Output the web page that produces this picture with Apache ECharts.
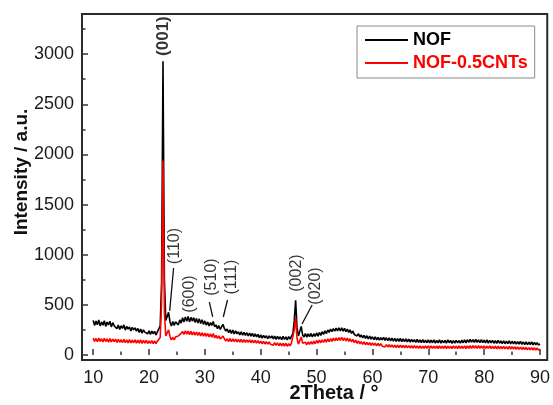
<!DOCTYPE html>
<html>
<head>
<meta charset="utf-8">
<script src="https://cdn.jsdelivr.net/npm/echarts@6/dist/echarts.min.js"></script>
<style>
  html, body { margin: 0; padding: 0; background: #fff; }
  #chart { width: 553px; height: 405px; }
</style>
</head>
<body>
<div id="chart"></div>
<script>
// XRD scan: 2θ from 10° to 90°, step 0.25°
const scanStart = 10;
const scanStep = 0.25;

// NOF intensity (a.u.), one row per 4° of 2θ
const intensityNOF = [
  345, 295, 338, 302, 350, 290, 330, 296, 342, 285, 328, 300, 336, 280, 322, 292,
  305, 262, 298, 255, 290, 265, 300, 248, 285, 258, 280, 240, 276, 250, 270, 238,
  265, 225, 258, 218, 250, 228, 245, 210, 242, 205, 238, 212, 235, 200, 230, 218,
  290, 720, 2930, 760, 345, 330, 425, 330, 290, 335, 295, 330, 345, 300, 350, 318,
  372, 330, 380, 335, 385, 330, 375, 338, 372, 325, 365, 320, 360, 315, 352, 305,
  340, 298, 330, 290, 322, 295, 335, 280, 300, 262, 292, 255, 282, 305, 262, 238,
  260, 222, 252, 215, 248, 210, 240, 212, 232, 200, 230, 198, 225, 195, 222, 190,
  218, 188, 215, 182, 210, 180, 205, 172, 200, 168, 196, 170, 192, 162, 190, 168,
  190, 160, 188, 155, 185, 158, 182, 152, 186, 156, 180, 150, 184, 158, 185, 212,
  340, 545, 270, 190, 180, 285, 200, 180, 215, 178, 210, 182, 215, 180, 212, 185,
  220, 188, 225, 195, 232, 205, 240, 212, 250, 225, 258, 232, 262, 238, 268, 240,
  272, 240, 270, 238, 265, 232, 258, 225, 250, 215, 238, 205, 222, 190, 212, 180,
  200, 170, 195, 165, 192, 160, 188, 158, 182, 152, 180, 150, 176, 148, 172, 150,
  175, 145, 172, 142, 170, 140, 168, 138, 165, 135, 163, 136, 166, 133, 160, 132,
  160, 130, 158, 128, 156, 132, 152, 126, 155, 125, 150, 122, 153, 124, 148, 122,
  150, 120, 148, 122, 152, 118, 146, 121, 150, 119, 147, 120, 145, 118, 150, 122,
  145, 116, 142, 118, 147, 120, 144, 117, 148, 122, 150, 120, 152, 125, 155, 128,
  152, 125, 155, 126, 150, 122, 153, 124, 148, 120, 150, 118, 147, 120, 145, 117,
  143, 115, 145, 117, 140, 114, 142, 112, 138, 113, 140, 110, 137, 112, 135, 108,
  134, 108, 136, 106, 130, 104, 132, 102, 128, 103, 130, 100, 126, 101, 124, 98,
  112
];

// NOF-0.5CNTs intensity (a.u.), same scan grid
const intensityCNT = [
  168, 135, 165, 132, 170, 136, 162, 130, 166, 134, 160, 128, 163, 130, 158, 132,
  158, 125, 155, 127, 152, 124, 156, 122, 150, 121, 153, 120, 148, 122, 150, 118,
  148, 118, 150, 116, 145, 119, 146, 114, 142, 115, 144, 112, 140, 113, 138, 145,
  175, 520, 1940, 430, 190, 175, 250, 185, 150, 175, 150, 180, 175, 190, 185, 215,
  235, 205, 240, 208, 238, 202, 236, 200, 232, 198, 228, 195, 225, 190, 222, 188,
  218, 185, 215, 180, 210, 178, 215, 170, 195, 165, 190, 160, 178, 188, 160, 140,
  162, 134, 165, 132, 160, 133, 158, 130, 156, 128, 155, 126, 152, 127, 150, 125,
  150, 122, 148, 120, 145, 118, 143, 116, 138, 112, 136, 110, 132, 108, 130, 106,
  124, 98, 122, 96, 120, 92, 118, 90, 116, 88, 115, 87, 114, 90, 118, 135,
  250, 370, 165, 108, 104, 180, 118, 104, 128, 102, 130, 105, 134, 108, 138, 112,
  145, 118, 148, 122, 150, 126, 155, 128, 160, 132, 163, 136, 168, 140, 170, 142,
  174, 146, 176, 144, 172, 140, 168, 136, 162, 130, 155, 124, 148, 116, 140, 110,
  134, 106, 130, 102, 126, 100, 124, 96, 120, 95, 118, 92, 115, 90, 114, 88,
  106, 80, 104, 80, 102, 78, 100, 76, 98, 75, 97, 74, 98, 73, 96, 72,
  95, 70, 94, 70, 92, 68, 93, 69, 90, 67, 91, 66, 89, 67, 90, 66,
  90, 66, 92, 65, 89, 67, 91, 64, 90, 66, 88, 65, 90, 64, 89, 66,
  88, 64, 90, 66, 89, 63, 91, 65, 88, 66, 92, 64, 90, 67, 93, 66,
  94, 68, 92, 66, 93, 65, 90, 66, 92, 64, 89, 65, 91, 63, 88, 64,
  87, 62, 88, 61, 85, 62, 86, 60, 84, 59, 85, 58, 82, 59, 83, 57,
  80, 56, 79, 55, 77, 54, 76, 52, 74, 51, 73, 50, 72, 49, 70, 48,
  57
];

// Axis ticks
const xMajorTicks = [10, 20, 30, 40, 50, 60, 70, 80, 90];
const xMinorTicks = [15, 25, 35, 45, 55, 65, 75, 85];
const yMajorTicks = [0, 500, 1000, 1500, 2000, 2500, 3000];
const yMinorTicks = [250, 750, 1250, 1750, 2250, 2750, 3250];

// Reflection labels: [2θ, intensity] at the label centre
const peakNames = ['(001)', '(110)', '(600)', '(510)', '(111)', '(002)', '(020)'];
const peakLabelPos = [
  [22.5, 3180], [24.6, 1086], [27.25, 608], [31.2, 777],
  [34.75, 777], [46.35, 817], [49.9, 688]
];
// Leader lines from label to reflection: [[2θ, I], [2θ, I]]
const leaderLines = [
  [[24.4, 867], [23.7, 440]],
  [[30.8, 528], [31.4, 379]],
  [[34.05, 548], [33.3, 379]],
  [[49.2, 498], [47.4, 309]]
];

const seriesNames = ['NOF', 'NOF-0.5CNTs'];
const seriesColors = ['#000000', '#ff0000'];

function toPairs(values) {
  return values.map((v, i) => [scanStart + i * scanStep, v]);
}

const FONT = '"Liberation Sans", Arial, sans-serif';
const X_MIN = 8, X_MAX = 91.3, Y_MIN = -50, Y_MAX = 3400;

const tickStyle = { color: '#333', width: 1.5 };
const legendLineIcon = 'path://M0,0h43v2h-43z';

const chart = echarts.init(document.getElementById('chart'), null, { renderer: 'canvas' });

chart.setOption({
  animation: false,
  backgroundColor: '#fff',
  grid: {
    left: 82, right: 4, top: 14, bottom: 45,
    show: true, borderColor: '#2a2a2a', borderWidth: 2, backgroundColor: 'transparent'
  },
  legend: {
    orient: 'vertical',
    left: 357, top: 26,
    padding: [5, 7, 6, 8],
    itemWidth: 43, itemHeight: 18, itemGap: 5,
    symbolKeepAspect: true,
    borderColor: '#8a8a8a', borderWidth: 1,
    textStyle: { fontFamily: FONT, fontSize: 18, fontWeight: 'bold' },
    data: [
      { name: seriesNames[0], icon: legendLineIcon, itemStyle: { color: seriesColors[0] }, textStyle: { color: seriesColors[0] } },
      { name: seriesNames[1], icon: legendLineIcon, itemStyle: { color: seriesColors[1] }, textStyle: { color: seriesColors[1] } }
    ]
  },
  xAxis: [
    {
      type: 'value', min: X_MIN, max: X_MAX,
      axisLine: { show: false },
      splitLine: { show: false },
      axisTick: { show: true, inside: true, length: 6, lineStyle: tickStyle, customValues: xMajorTicks },
      axisLabel: { customValues: xMajorTicks, fontFamily: FONT, fontSize: 18, color: '#1a1a1a', margin: 9,
                   formatter: (v) => String(v) }
    },
    {
      type: 'value', min: X_MIN, max: X_MAX, position: 'bottom',
      axisLine: { show: false },
      splitLine: { show: false },
      axisTick: { show: true, inside: true, length: 3.5, lineStyle: tickStyle, customValues: xMinorTicks },
      axisLabel: { show: false }
    }
  ],
  yAxis: [
    {
      type: 'value', min: Y_MIN, max: Y_MAX,
      axisLine: { show: false },
      splitLine: { show: false },
      axisTick: { show: true, inside: true, length: 6, lineStyle: tickStyle, customValues: yMajorTicks },
      axisLabel: { customValues: yMajorTicks, fontFamily: FONT, fontSize: 18, color: '#1a1a1a', margin: 8,
                   formatter: (v) => String(v) }
    },
    {
      type: 'value', min: Y_MIN, max: Y_MAX, position: 'left',
      axisLine: { show: false },
      splitLine: { show: false },
      axisTick: { show: true, inside: true, length: 3.5, lineStyle: tickStyle, customValues: yMinorTicks },
      axisLabel: { show: false }
    }
  ],
  graphic: [
    {
      type: 'text', x: 22, y: 172, rotation: Math.PI / 2,
      style: {
        text: 'Intensity / a.u.', fontFamily: FONT, fontSize: 19, fontWeight: 'bold',
        fill: '#111', align: 'center', verticalAlign: 'middle'
      }
    },
    {
      type: 'text', x: 334, y: 393,
      style: {
        text: '2Theta / °', fontFamily: FONT, fontSize: 20, fontWeight: 'bold',
        fill: '#111', align: 'center', verticalAlign: 'middle'
      }
    }
  ],
  series: [
    {
      name: seriesNames[0], type: 'line', symbol: 'none',
      data: toPairs(intensityNOF),
      lineStyle: { color: seriesColors[0], width: 1.6 },
      itemStyle: { color: seriesColors[0] }
    },
    {
      name: seriesNames[1], type: 'line', symbol: 'none',
      data: toPairs(intensityCNT),
      lineStyle: { color: seriesColors[1], width: 1.6 },
      itemStyle: { color: seriesColors[1] }
    },
    {
      name: 'reflections', type: 'scatter',
      symbolSize: 0.1,
      itemStyle: { color: 'transparent' },
      silent: true,
      data: peakLabelPos.map((p, i) => ({
        value: p,
        name: peakNames[i],
        label: i === 0 ? { fontWeight: 'bold', fontSize: 17 } : {}
      })),
      label: {
        show: true, position: 'inside', rotate: 90,
        formatter: (p) => p.name,
        fontFamily: FONT, fontSize: 16, color: '#000'
      },
      markLine: {
        silent: true, symbol: ['none', 'none'],
        label: { show: false },
        lineStyle: { color: '#111', width: 1.3, type: 'solid' },
        emphasis: { disabled: true },
        data: leaderLines.map((l) => [{ coord: l[0] }, { coord: l[1] }])
      }
    }
  ]
});
</script>
</body>
</html>
